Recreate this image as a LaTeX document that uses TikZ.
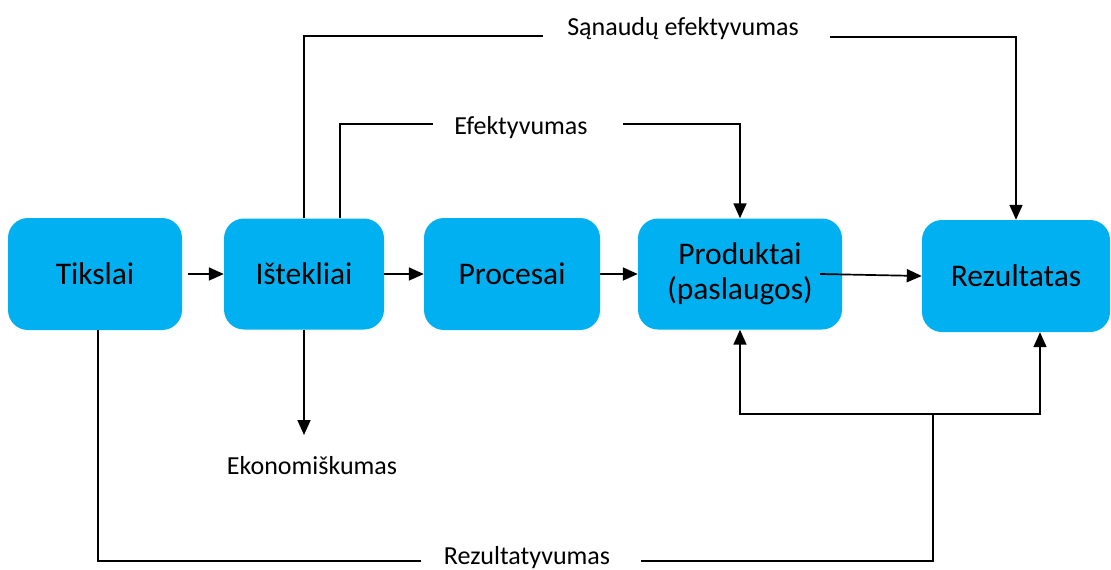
\documentclass[tikz,border=0pt]{standalone}
\usepackage{fontspec}
\setmainfont{Carlito}
\usetikzlibrary{arrows.meta}
\definecolor{melyna}{HTML}{00B0F0}

\begin{document}
\begin{tikzpicture}[x=1pt,y=-1pt,
    blok/.style={fill=melyna,rounded corners=20pt,minimum height=112pt,
        font=\fontsize{31.5}{35}\selectfont,align=center,inner sep=0pt},
    zodis/.style={anchor=base,font=\fontsize{26}{30}\selectfont,inner sep=0pt},
    linija/.style={line width=1.7pt},
    rodykle/.style={line width=1.7pt,-{Triangle[length=15pt,width=13pt]}}]

    \useasboundingbox (0,0) rectangle (1111,570);

    \node[blok,minimum width=174pt] (tiks) at (95,274) {Tikslai};
    \node[blok,minimum width=160pt,minimum height=111pt] (istek) at (304,274) {Ištekliai};
    \node[blok,minimum width=176pt] (proc) at (512,274) {Procesai};
    \node[blok,minimum width=204pt,minimum height=111pt] (prod) at (740,274) {Produktai\\(paslaugos)};
    \node[blok,minimum width=188pt] (rezul) at (1016,276) {Rezultatas};

    \node[zodis] (sanaud) at (683,35) {Sąnaudų efektyvumas};
    \node[zodis] (efekt) at (521,134) {Efektyvumas};
    \node[zodis] (ekonom) at (312,474) {Ekonomiškumas};
    \node[zodis] (rezty) at (527,564) {Rezultatyvumas};

    \coordinate (sanL) at (543,36);
    \coordinate (sanR) at (830,37);
    \coordinate (efL) at (433,124);
    \coordinate (efR) at (623,124);
    \coordinate (ekTip) at (304,435);
    \coordinate (rzL) at (421,561);
    \coordinate (rzR) at (641,561);
    \coordinate (saka) at (933,414);

\draw[rodykle,shorten <=6pt] (tiks) -- (istek);
\draw[rodykle] (istek) -- (proc);
\draw[rodykle] (proc) -- (prod);
\draw[rodykle] ([xshift=-22pt]prod.east) -- (rezul.west);

\draw[linija] (istek.north) |- (sanL);
\draw[rodykle] (sanR) -| (rezul.north);
\draw[linija] ([xshift=36pt]istek.north) |- (efL);
\draw[rodykle] (efR) -| (prod.north);
\draw[rodykle] (istek.south) -- (ekTip);

\draw[linija] ([xshift=3pt]tiks.south) |- (rzL);
\draw[linija] (rzR) -| (saka);
\draw[rodykle] (saka) -| (prod.south);
\draw[rodykle] (saka) -| ([xshift=24pt]rezul.south);
\end{tikzpicture}
\end{document}
